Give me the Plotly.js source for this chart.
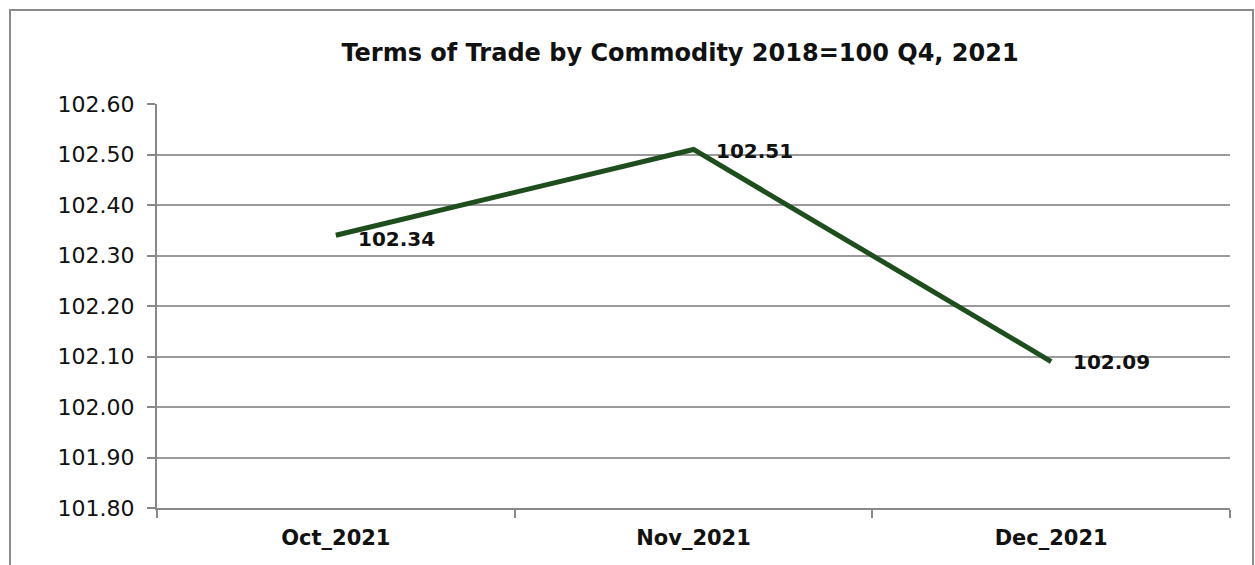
<!DOCTYPE html>
<html>
<head>
<meta charset="utf-8">
<script src="https://cdn.plot.ly/plotly-3.0.1.min.js"></script>
<style>html,body{margin:0;padding:0;background:#fff;}#chart{width:1255px;height:565px;}</style>
</head>
<body>
<div id="chart"></div>
<script>
var categories = ["Oct_2021", "Nov_2021", "Dec_2021"];
var values = [102.34, 102.51, 102.09];
var labels = ["102.34", "102.51", "102.09"];
var yTickVals = [101.8, 101.9, 102.0, 102.1, 102.2, 102.3, 102.4, 102.5, 102.6];

var W = 1255, H = 565, mL = 157, mR = 25, mT = 104, mB = 57;
var pw = W - mL - mR, ph = H - mT - mB;
function px(x) { return (x - mL) / pw; }
function py(y) { return (H - mB - y) / ph; }

var lineColor = "#1E4D1E";
var gridColor = "#9A9A9A";
var font = "DejaVu Sans, Liberation Sans, sans-serif";

var trace = {
  x: categories,
  y: values,
  type: "scatter",
  mode: "lines",
  line: { color: lineColor, width: 5 },
  hoverinfo: "skip"
};

var yShifts = [-4, -2, 0];
var annotations = categories.map(function (c, i) {
  return {
    x: c, y: values[i], xref: "x", yref: "y",
    text: labels[i], showarrow: false,
    xanchor: "left", yanchor: "middle",
    xshift: 20, yshift: yShifts[i],
    font: { family: font, size: 20, color: "#111", weight: "bold" }
  };
});

var layout = {
  width: W, height: H,
  margin: { l: mL, r: mR, t: mT, b: mB, pad: 0 },
  paper_bgcolor: "#fff", plot_bgcolor: "#fff",
  showlegend: false,
  title: {
    text: "<b>Terms of Trade by Commodity 2018=100 Q4, 2021</b>",
    x: px(680), xref: "paper", xanchor: "center",
    y: 1 - 53 / H, yanchor: "middle",
    font: { family: font, size: 24, color: "#111" }
  },
  xaxis: {
    type: "category",
    range: [-0.5, 2.5],
    tickson: "boundaries",
    ticks: "outside", ticklen: 8, tickwidth: 2, tickcolor: "#888",
    showgrid: false,
    showline: true, linecolor: "#888", linewidth: 2,
    tickfont: { family: font, size: 21, color: "#111", weight: "bold" },
    ticklabelstandoff: 10,
    fixedrange: true
  },
  yaxis: {
    range: [101.8, 102.6],
    tickvals: yTickVals,
    tickformat: ".2f",
    ticks: "outside", ticklen: 8, tickwidth: 2, tickcolor: "#888",
    showgrid: true, gridcolor: gridColor, gridwidth: 2,
    zeroline: false,
    showline: true, linecolor: "#888", linewidth: 2,
    tickfont: { family: font, size: 22, color: "#111" },
    ticklabelstandoff: 8,
    fixedrange: true
  },
  shapes: [{
    type: "rect", xref: "paper", yref: "paper",
    x0: px(10), x1: px(1253), y0: py(580), y1: py(10),
    line: { color: "#8A8A8A", width: 2 }, fillcolor: "rgba(0,0,0,0)", layer: "below"
  }],
  annotations: annotations
};

Plotly.newPlot("chart", [trace], layout, { displayModeBar: false, staticPlot: true });
</script>
</body>
</html>
